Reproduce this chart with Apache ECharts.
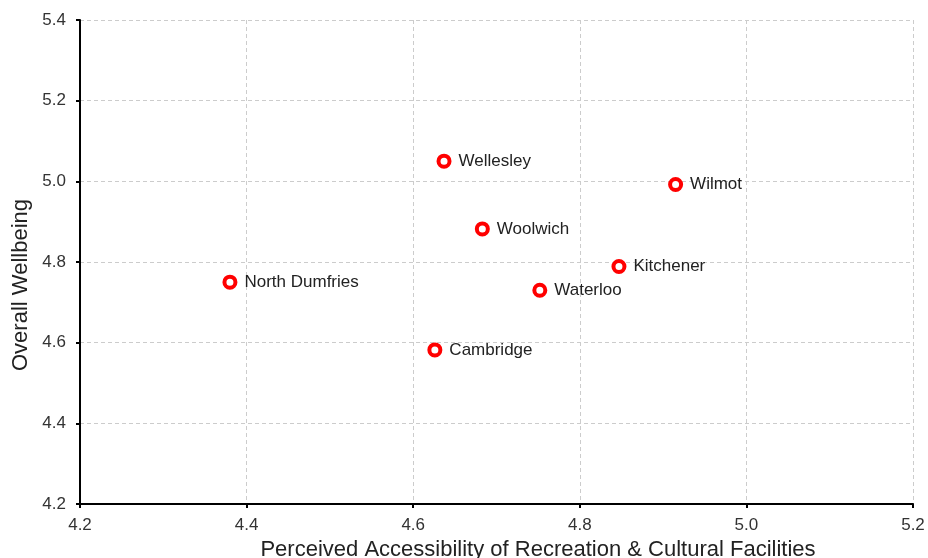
<!DOCTYPE html>
<html>
<head>
<meta charset="utf-8">
<script src="https://cdn.jsdelivr.net/npm/echarts@6/dist/echarts.min.js"></script>
<style>
  html, body { margin: 0; padding: 0; background: #fff; }
  #chart { width: 928px; height: 558px; }
</style>
</head>
<body>
<div id="chart"></div>
<script>
// Township / city names and their survey scores
const regions = ['North Dumfries', 'Cambridge', 'Wellesley', 'Woolwich', 'Waterloo', 'Kitchener', 'Wilmot'];
const accessScores = [4.38, 4.626, 4.637, 4.683, 4.752, 4.847, 4.915];
const wellbeingScores = [4.75, 4.582, 5.05, 4.882, 4.73, 4.789, 4.992];

const points = regions.map((name, i) => ({ name: name, value: [accessScores[i], wellbeingScores[i]] }));

const font = 'Liberation Sans, Arial, sans-serif';
const chart = echarts.init(document.getElementById('chart'), null, { renderer: 'canvas' });

const axisCommon = {
  type: 'value',
  interval: 0.2,
  axisLine: { show: true, onZero: false, lineStyle: { color: '#000', width: 2 } },
  axisTick: { show: true, length: 4, lineStyle: { color: '#000', width: 2 } },
  axisLabel: { color: '#333', fontSize: 17, fontFamily: font, formatter: v => v.toFixed(1) },
  splitLine: { show: true, lineStyle: { color: '#ccc', type: [4, 3], width: 1 } },
  nameLocation: 'middle'
};

chart.setOption({
  animation: false,
  backgroundColor: '#fff',
  grid: { left: 80, right: 15, top: 20, bottom: 54, containLabel: false, outerBoundsMode: 'none' },
  xAxis: Object.assign({}, axisCommon, {
    min: 4.2, max: 5.2,
    name: 'Perceived Accessibility of Recreation & Cultural Facilities',
    nameGap: 35,
    nameTextStyle: { color: '#222', fontSize: 22, fontFamily: font, padding: [0, 0, 0, 83] },
    axisLabel: Object.assign({}, axisCommon.axisLabel, { margin: 13 })
  }),
  yAxis: Object.assign({}, axisCommon, {
    min: 4.2, max: 5.4,
    name: 'Overall Wellbeing',
    nameGap: 43,
    nameTextStyle: { color: '#222', fontSize: 22, fontFamily: font, padding: [0, 46, 0, 0] },
    axisLabel: Object.assign({}, axisCommon.axisLabel, { margin: 14 })
  }),
  series: [{
    type: 'scatter',
    data: points,
    symbol: 'circle',
    symbolSize: 11,
    itemStyle: { color: '#fff', borderColor: '#ff0000', borderWidth: 4, opacity: 1 },
    label: {
      show: true,
      position: 'right',
      distance: 7,
      formatter: p => p.name,
      color: '#222',
      fontSize: 17,
      fontFamily: font
    }
  }]
});
</script>
</body>
</html>
